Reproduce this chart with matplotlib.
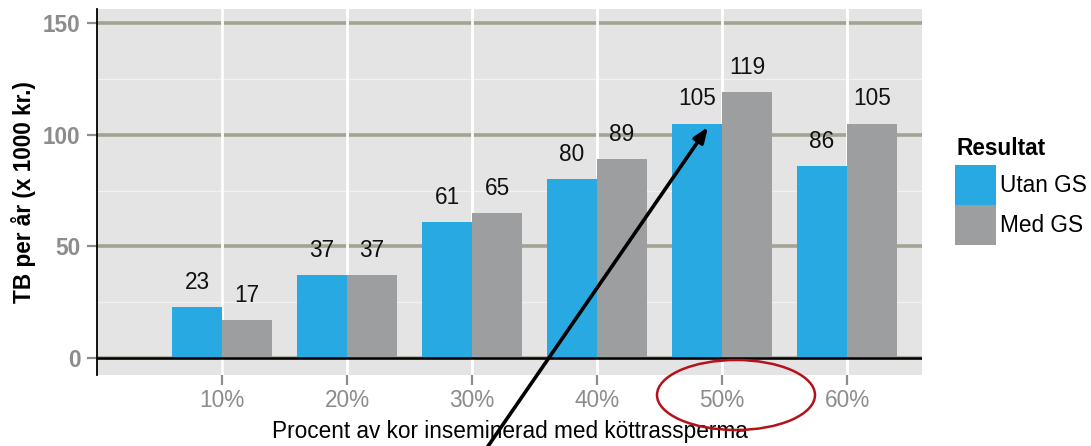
import matplotlib
matplotlib.use("Agg")
import matplotlib.pyplot as plt
from matplotlib.patches import Ellipse, Rectangle
import numpy as np

plt.rcParams['font.family'] = ['Liberation Sans', 'DejaVu Sans']

categories = ["10%", "20%", "30%", "40%", "50%", "60%"]
utan_gs = [23, 37, 61, 80, 105, 86]
med_gs = [17, 37, 65, 89, 119, 105]
series_names = ["Utan GS", "Med GS"]
legend_title = "Resultat"
y_ticks = [0, 50, 100, 150]
y_minor = [25, 75, 125]

blue = "#29A9E1"
gray = "#9D9EA0"
FS = 16.3

W, H = 1091, 446
fig = plt.figure(figsize=(W / 100, H / 100), dpi=100)
ax = fig.add_axes([97 / W, (H - 375) / H, (922 - 97) / W, (375 - 9) / H])
ax.set_facecolor("#E4E4E4")

x = np.arange(len(categories))
bw = 0.4
ax.set_xlim(-1.0, 5.6)
ax.set_ylim(-7.61, 156.27)

# grid
for v in y_ticks:
    ax.axhline(v, color="#A3A394", lw=2.6, zorder=1)
for v in y_minor:
    ax.axhline(v, color="#F2F2F2", lw=1.0, zorder=1)
for xi in x:
    ax.axvline(xi, color="white", lw=2.0, zorder=1.5)

ax.bar(x - bw / 2, utan_gs, width=bw, color=blue, zorder=2)
ax.bar(x + bw / 2, med_gs, width=bw, color=gray, zorder=2)
ax.axhline(0, color="black", lw=1.8, zorder=3)

for xi, v in zip(x, utan_gs):
    ax.text(xi - bw / 2, v + 11, str(v), ha="center", va="center", fontsize=FS, color="#111111", zorder=4)
for xi, v in zip(x, med_gs):
    ax.text(xi + bw / 2, v + 11, str(v), ha="center", va="center", fontsize=FS, color="#111111", zorder=4)

for s in ["top", "right", "bottom"]:
    ax.spines[s].set_visible(False)
ax.spines["left"].set_color("black")
ax.spines["left"].set_linewidth(1.3)

ax.set_xticks(x)
ax.set_xticklabels(categories, fontsize=FS, color="#8C8C8C")
ax.set_yticks(y_ticks)
ax.set_yticklabels([str(v) for v in y_ticks], fontsize=FS, color="#8C8C8C", fontweight="bold")
ax.tick_params(axis="y", length=7, width=1.6, color="#8C8C8C", pad=5)
ax.tick_params(axis="x", length=7, width=1.6, color="#8C8C8C", pad=3)

ax.set_xlabel("Procent av kor inseminerad med köttrassperma", fontsize=FS, color="black", labelpad=6)
ax.set_ylabel("TB per år (x 1000 kr.)", fontsize=FS, fontweight="bold", color="black", labelpad=5)

# legend (manual)
fig.text(957 / W, 1 - 148 / H, legend_title, fontsize=FS, fontweight="bold", ha="left", va="center")
for i, (name, c) in enumerate(zip(series_names, [blue, gray])):
    top = 165 + i * 40
    fig.add_artist(Rectangle((955 / W, 1 - (top + 40) / H), 41 / W, 40 / H, transform=fig.transFigure,
                             facecolor=c, edgecolor="none"))
    fig.text(1000 / W, 1 - (top + 20) / H, name, fontsize=FS, ha="left", va="center")

# annotation: ellipse and arrow
ell = Ellipse((736 / W, 1 - 395 / H), 158 / W, 70 / H, transform=fig.transFigure,
              facecolor="none", edgecolor="#B3121B", lw=1.8, clip_on=False)
fig.add_artist(ell)
ax.annotate("", xy=(708 / W, 1 - 127 / H), xytext=(484 / W, 1 - 452 / H),
            xycoords="figure fraction", textcoords="figure fraction",
            arrowprops=dict(arrowstyle="-|>,head_length=0.9,head_width=0.35", color="black", lw=2.6,
                            shrinkA=0, shrinkB=0), annotation_clip=False, zorder=10)

fig.savefig("out.png", dpi=100)
